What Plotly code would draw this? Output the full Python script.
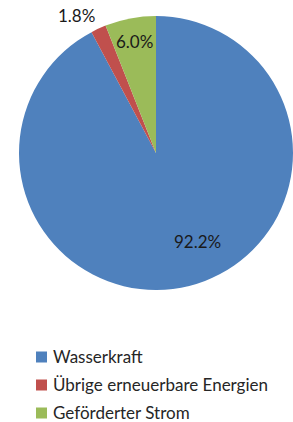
import math
import plotly.graph_objects as go

labels = ["Wasserkraft", "Übrige erneuerbare Energien", "Geförderter Strom"]
values = [92.2, 1.8, 6.0]
colors = ["#4F81BD", "#C0504D", "#9BBB59"]

# label placement style (radius as fraction of pie radius, angular shift in degrees)
label_radius = [0.71, 1.16, 0.83]
label_shift = [-11, -5, 0]

W, H = 293, 422
cx, cy, R = 156, 153, 137  # pie centre / radius in px

fig = go.Figure(go.Pie(
    labels=labels,
    values=values,
    sort=False,
    direction="clockwise",
    rotation=0,
    marker=dict(colors=colors, line=dict(color="white", width=0)),
    textinfo="none",
    hoverinfo="label+percent",
    domain=dict(x=[(cx - R) / W, (cx + R) / W], y=[1 - (cy + R) / H, 1 - (cy - R) / H]),
    showlegend=False,
))

total = sum(values)
cum = 0.0
annotations = []
for v, rf, sh in zip(values, label_radius, label_shift):
    mid = (cum + v / 2) / total * 360 + sh
    cum += v
    th = math.radians(mid)
    px = cx + rf * R * math.sin(th)
    py = cy - rf * R * math.cos(th)
    annotations.append(dict(
        x=px / W, y=1 - py / H, xref="paper", yref="paper",
        text=f"{v:.1f}%", showarrow=False, xanchor="center", yanchor="middle",
        font=dict(family="Lato, sans-serif", size=17, color="#1a1a1a"),
    ))

# manual legend
row_y = [357, 385, 413]
sq_x0, sq = 36, 11
shapes = []
for lab, col, ry in zip(labels, colors, row_y):
    shapes.append(dict(
        type="rect", xref="paper", yref="paper",
        x0=sq_x0 / W, x1=(sq_x0 + sq) / W,
        y0=1 - (ry + sq / 2) / H, y1=1 - (ry - sq / 2) / H,
        fillcolor=col, line=dict(width=0),
    ))
    annotations.append(dict(
        x=(sq_x0 + sq + 4) / W, y=1 - (ry - 1) / H, xref="paper", yref="paper",
        text=lab, showarrow=False, xanchor="left", yanchor="middle",
        font=dict(family="Lato, sans-serif", size=17, color="#262626"),
    ))

fig.update_layout(
    width=W, height=H,
    margin=dict(l=0, r=0, t=0, b=0),
    paper_bgcolor="white",
    annotations=annotations,
    shapes=shapes,
)

fig.write_html(
    "out.html",
    config={"displayModeBar": False},
    post_script="document.body.style.margin='0px';document.body.style.overflow='hidden';",
)
